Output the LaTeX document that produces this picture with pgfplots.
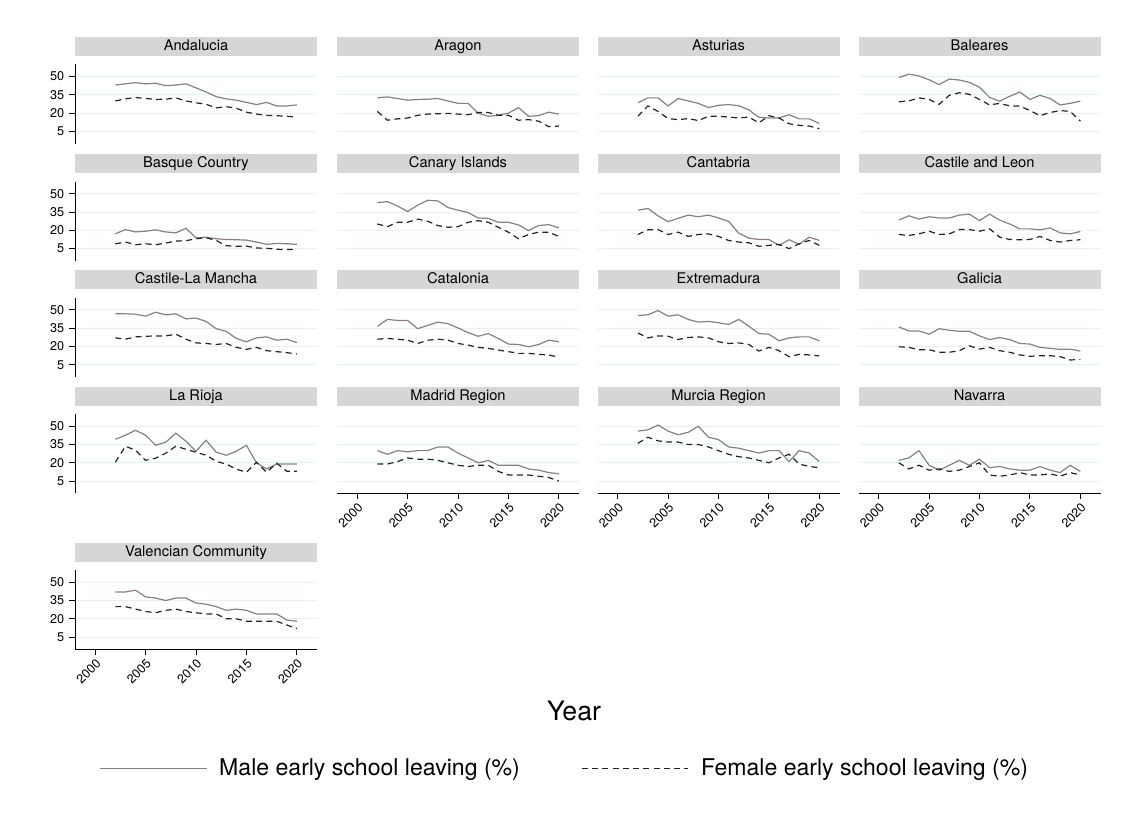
\documentclass[border=0pt]{standalone}
\usepackage{pgfplots}
\pgfplotsset{compat=1.18}
\usepackage{pgfplotstable}
\usepackage{fontspec}
\setmainfont{TeX Gyre Heros}
\definecolor{stripc}{RGB}{214,214,214}
\definecolor{gridc}{RGB}{232,240,242}
\definecolor{malec}{RGB}{130,130,130}
\definecolor{femalec}{RGB}{35,35,35}

\pgfplotstableread{
year m f
2002 43.0 30.0
2003 44.0 31.7
2004 45.0 32.8
2005 44.0 32.0
2006 44.5 31.2
2007 42.5 31.4
2008 43.0 32.5
2009 44.0 30.0
2010 40.7 28.5
2011 37.3 27.2
2012 33.5 24.3
2013 31.7 25.3
2014 30.6 24.0
2015 28.8 20.8
2016 27.0 19.2
2017 28.8 18.2
2018 25.9 17.9
2019 25.9 17.4
2020 26.7 16.8
}\tAnd
\pgfplotstableread{
year m f
2002 32.5 21.4
2003 33.3 14.2
2004 32.0 15.3
2005 30.6 16.0
2006 31.2 18.2
2007 31.4 19.2
2008 32.0 19.5
2009 30.0 19.8
2010 28.0 19.2
2011 28.0 18.7
2012 20.0 20.5
2013 17.4 20.5
2014 18.2 18.2
2015 20.0 18.2
2016 24.5 14.2
2017 17.4 14.7
2018 18.0 13.4
2019 20.8 8.9
2020 19.2 9.4
}\tAra
\pgfplotstableread{
year m f
2002 28.5 17.4
2003 32.5 25.9
2004 32.5 21.4
2005 25.9 15.5
2006 32.0 14.7
2007 30.0 15.5
2008 28.0 13.9
2009 24.5 17.4
2010 26.4 17.4
2011 27.0 16.8
2012 26.1 16.0
2013 22.7 16.8
2014 16.6 12.0
2015 16.0 17.9
2016 16.0 16.0
2017 18.7 11.3
2018 15.3 10.0
2019 15.3 9.4
2020 11.5 7.3
}\tAst
\pgfplotstableread{
year m f
2002 49.2 29.3
2003 51.9 30.0
2004 50.5 32.5
2005 47.3 31.2
2006 43.4 27.2
2007 47.9 34.6
2008 47.1 36.7
2009 45.2 35.4
2010 41.2 31.2
2011 32.8 26.7
2012 29.8 28.0
2013 33.8 25.9
2014 37.3 25.9
2015 31.2 22.1
2016 34.6 17.9
2017 32.0 20.5
2018 26.7 22.1
2019 28.0 21.4
2020 29.8 13.4
}\tBal
\pgfplotstableread{
year m f
2002 17.1 9.0
2003 20.6 10.4
2004 18.7 8.2
2005 19.3 9.0
2006 20.4 8.2
2007 18.7 9.6
2008 17.9 11.2
2009 21.7 11.5
2010 13.9 13.1
2011 14.4 13.9
2012 13.1 11.7
2013 12.5 7.4
2014 12.3 6.9
2015 12.0 7.1
2016 10.4 5.5
2017 8.5 5.3
2018 9.3 4.5
2019 9.0 4.2
2020 8.5 4.5
}\tBas
\pgfplotstableread{
year m f
2002 42.7 25.2
2003 43.5 23.0
2004 40.0 26.6
2005 35.4 26.6
2006 40.6 29.2
2007 44.6 27.4
2008 44.1 23.9
2009 38.7 22.5
2010 36.5 23.0
2011 34.6 26.6
2012 30.1 27.9
2013 29.8 26.6
2014 26.6 22.5
2015 26.6 18.5
2016 24.4 13.1
2017 19.8 16.6
2018 23.9 18.5
2019 24.7 18.5
2020 22.0 15.0
}\tCan
\pgfplotstableread{
year m f
2002 36.5 16.6
2003 37.9 20.4
2004 31.9 20.6
2005 27.1 16.6
2006 29.8 18.5
2007 32.5 15.0
2008 31.1 16.6
2009 32.5 17.1
2010 30.1 15.0
2011 27.4 11.7
2012 17.7 10.4
2013 13.6 9.8
2014 12.5 6.9
2015 12.5 7.7
2016 7.7 8.5
2017 12.3 5.0
2018 8.5 9.0
2019 14.4 11.7
2020 11.7 7.7
}\tCnt
\pgfplotstableread{
year m f
2002 28.4 16.6
2003 31.9 15.8
2004 29.2 17.1
2005 31.1 19.3
2006 30.1 16.6
2007 30.1 17.1
2008 32.5 20.6
2009 33.3 20.6
2010 27.9 19.3
2011 33.3 21.2
2012 28.4 14.4
2013 25.2 12.5
2014 21.2 12.3
2015 21.2 12.5
2016 20.4 15.0
2017 22.0 11.7
2018 17.9 10.4
2019 17.1 11.7
2020 19.0 12.3
}\tCyL
\pgfplotstableread{
year m f
2002 46.8 27.1
2003 46.8 26.0
2004 46.5 27.9
2005 44.9 28.4
2006 48.1 28.7
2007 46.0 28.7
2008 46.8 30.1
2009 42.7 26.0
2010 43.3 23.0
2011 40.6 22.5
2012 34.6 21.7
2013 32.5 22.5
2014 26.6 19.3
2015 23.9 17.7
2016 27.1 19.3
2017 27.9 16.6
2018 25.2 15.8
2019 26.0 15.0
2020 23.3 13.9
}\tCLM
\pgfplotstableread{
year m f
2002 36.5 26.0
2003 42.2 26.6
2004 41.4 26.0
2005 41.4 25.2
2006 34.6 22.5
2007 37.3 25.2
2008 40.0 26.0
2009 38.7 25.2
2010 35.2 22.5
2011 31.4 21.2
2012 28.4 19.3
2013 30.6 18.5
2014 26.6 17.1
2015 22.0 15.8
2016 21.7 14.4
2017 19.8 14.4
2018 21.7 13.6
2019 25.2 13.1
2020 23.9 11.2
}\tCat
\pgfplotstableread{
year m f
2002 45.4 31.1
2003 46.0 27.1
2004 49.5 28.7
2005 44.9 28.4
2006 46.0 25.7
2007 42.2 27.4
2008 40.0 27.9
2009 40.6 27.1
2010 39.5 23.9
2011 38.1 22.5
2012 42.2 23.0
2013 36.8 21.7
2014 30.6 16.3
2015 30.1 19.3
2016 24.7 16.6
2017 27.1 11.7
2018 27.9 13.6
2019 27.9 13.1
2020 24.7 12.3
}\tExt
\pgfplotstableread{
year m f
2002 36.0 19.8
2003 32.8 19.3
2004 32.8 17.4
2005 30.1 17.4
2006 34.6 15.3
2007 33.3 15.3
2008 32.5 16.6
2009 32.5 20.6
2010 28.7 17.9
2011 25.7 19.3
2012 27.4 16.6
2013 25.7 15.3
2014 22.5 13.1
2015 22.0 12.0
2016 19.3 12.5
2017 18.5 12.5
2018 17.7 11.7
2019 17.7 9.0
2020 16.3 9.3
}\tGal
\pgfplotstableread{
year m f
2002 39.3 20.5
2003 42.6 33.6
2004 46.7 30.3
2005 42.6 22.1
2006 34.4 23.8
2007 36.9 27.9
2008 44.3 33.6
2009 37.7 31.1
2010 29.5 28.7
2011 38.5 26.2
2012 28.7 21.3
2013 26.2 18.9
2014 29.5 14.8
2015 34.4 12.3
2016 20.0 20.5
2017 15.0 12.3
2018 19.0 19.7
2019 19.0 13.1
2020 19.0 13.1
}\tRio
\pgfplotstableread{
year m f
2002 30.0 19.0
2003 27.0 19.0
2004 30.0 21.0
2005 29.0 24.0
2006 30.0 23.0
2007 30.0 23.0
2008 33.0 22.0
2009 33.0 20.0
2010 28.0 18.0
2011 24.0 17.0
2012 20.0 18.0
2013 22.0 18.0
2014 18.0 13.0
2015 18.0 10.0
2016 18.0 10.0
2017 15.0 10.0
2018 14.0 9.0
2019 12.0 8.0
2020 11.0 5.0
}\tMad
\pgfplotstableread{
year m f
2002 46.0 36.0
2003 47.0 41.0
2004 51.0 38.0
2005 46.0 37.0
2006 43.0 37.0
2007 45.0 35.0
2008 50.0 35.0
2009 41.0 33.0
2010 39.0 30.0
2011 33.0 27.0
2012 32.0 25.0
2013 30.0 24.0
2014 28.0 22.0
2015 30.0 20.0
2016 30.0 24.0
2017 21.0 27.0
2018 30.0 19.0
2019 28.0 17.0
2020 21.0 16.0
}\tMur
\pgfplotstableread{
year m f
2002 22.0 20.0
2003 24.0 15.0
2004 30.0 18.0
2005 18.0 14.0
2006 14.0 15.0
2007 18.0 13.0
2008 22.0 14.0
2009 18.0 17.0
2010 23.0 20.0
2011 16.0 10.0
2012 17.0 9.0
2013 15.0 10.0
2014 14.0 12.0
2015 14.0 10.0
2016 17.0 10.0
2017 14.0 11.0
2018 12.0 9.0
2019 18.0 12.0
2020 13.0 10.0
}\tNav
\pgfplotstableread{
year m f
2002 42.0 30.0
2003 42.0 30.0
2004 43.5 28.0
2005 38.0 26.0
2006 37.0 25.0
2007 35.0 27.0
2008 37.0 28.0
2009 37.0 26.0
2010 33.0 25.0
2011 32.0 24.0
2012 30.0 24.0
2013 27.0 20.0
2014 28.0 20.0
2015 27.0 18.0
2016 24.0 18.0
2017 24.0 18.0
2018 24.0 18.0
2019 19.0 15.0
2020 18.0 12.0
}\tVal

\pgfplotsset{
  panel/.style={
    scale only axis, width=181.5pt, height=59.5pt,
    xmin=1998, xmax=2022, ymin=-5, ymax=60,
    ytick={5,20,35,50}, xtick={2000,2005,2010,2015,2020},
    xticklabels={}, yticklabels={},
    ymajorgrids, grid style={gridc, line width=0.75pt},
    axis lines*=left, separate axis lines,
    x axis line style={draw=none}, y axis line style={draw=none},
    xtick style={draw=none}, ytick style={draw=none},
    tick align=outside, major tick length=4.5pt,
    tick label style={font=\fontsize{9.5}{11}\selectfont},
    title style={at={(0.5,1)}, anchor=south, yshift=0pt, fill=stripc,
      minimum width=181.5pt, minimum height=14.25pt, inner sep=0pt,
      text height=8pt, text depth=2.2pt,
      font=\fontsize{11}{13}\selectfont},
  },
  ylab/.style={yticklabels={5,20,35,50},
    y axis line style={draw=black, line width=0.75pt},
    ytick style={draw=black, line width=0.75pt}},
  xlab/.style={xticklabels={2000,2005,2010,2015,2020},
    x axis line style={draw=black, line width=0.75pt},
    xtick style={draw=black, line width=0.75pt},
    xticklabel style={rotate=45, anchor=north east, inner sep=1.5pt}},
  male/.style={malec, line width=0.9pt},
  female/.style={femalec, line width=0.9pt, dash pattern=on 4.5pt off 3.2pt},
}

\newcommand{\panel}[5]{%
  \begin{axis}[panel, at={(#1*0.75pt,-#2*0.75pt)}, anchor=north west, title={#3}, #5]
    \addplot[male] table[x=year,y=m]{#4};
    \addplot[female] table[x=year,y=f]{#4};
  \end{axis}}

\begin{document}
\begin{tikzpicture}
\path[use as bounding box] (0,0) rectangle (848.25pt,-619.5pt);
\panel{75}{64.3}{Andalucia}{\tAnd}{ylab}
\panel{337}{64.3}{Aragon}{\tAra}{}
\panel{597.5}{64.3}{Asturias}{\tAst}{}
\panel{858.5}{64.3}{Baleares}{\tBal}{}
\panel{75}{181.5}{Basque Country}{\tBas}{ylab}
\panel{337}{181.5}{Canary Islands}{\tCan}{}
\panel{597.5}{181.5}{Cantabria}{\tCnt}{}
\panel{858.5}{181.5}{Castile and Leon}{\tCyL}{}
\panel{75}{297.7}{Castile-La Mancha}{\tCLM}{ylab}
\panel{337}{297.7}{Catalonia}{\tCat}{}
\panel{597.5}{297.7}{Extremadura}{\tExt}{}
\panel{858.5}{297.7}{Galicia}{\tGal}{}
\panel{75}{414}{La Rioja}{\tRio}{ylab}
\panel{337}{414}{Madrid Region}{\tMad}{xlab}
\panel{597.5}{414}{Murcia Region}{\tMur}{xlab}
\panel{858.5}{414}{Navarra}{\tNav}{xlab}
\panel{75}{570}{Valencian Community}{\tVal}{ylab, xlab,
  legend entries={Male early school leaving (\%), Female early school leaving (\%)},
  legend columns=2,
  legend style={at={(2.025,-1.497)}, anchor=center, draw=none, fill=none,
    font=\fontsize{17.3}{20}\selectfont,
    /tikz/every odd column/.append style={column sep=7pt},
    /tikz/every even column/.append style={column sep=44pt}},
  legend image code/.code={\draw[#1] (0pt,0pt) -- (80pt,0pt);}}
\node[font=\fontsize{20}{24}\selectfont] at (574*0.75pt,-711*0.75pt) {Year};
\end{tikzpicture}
\end{document}
